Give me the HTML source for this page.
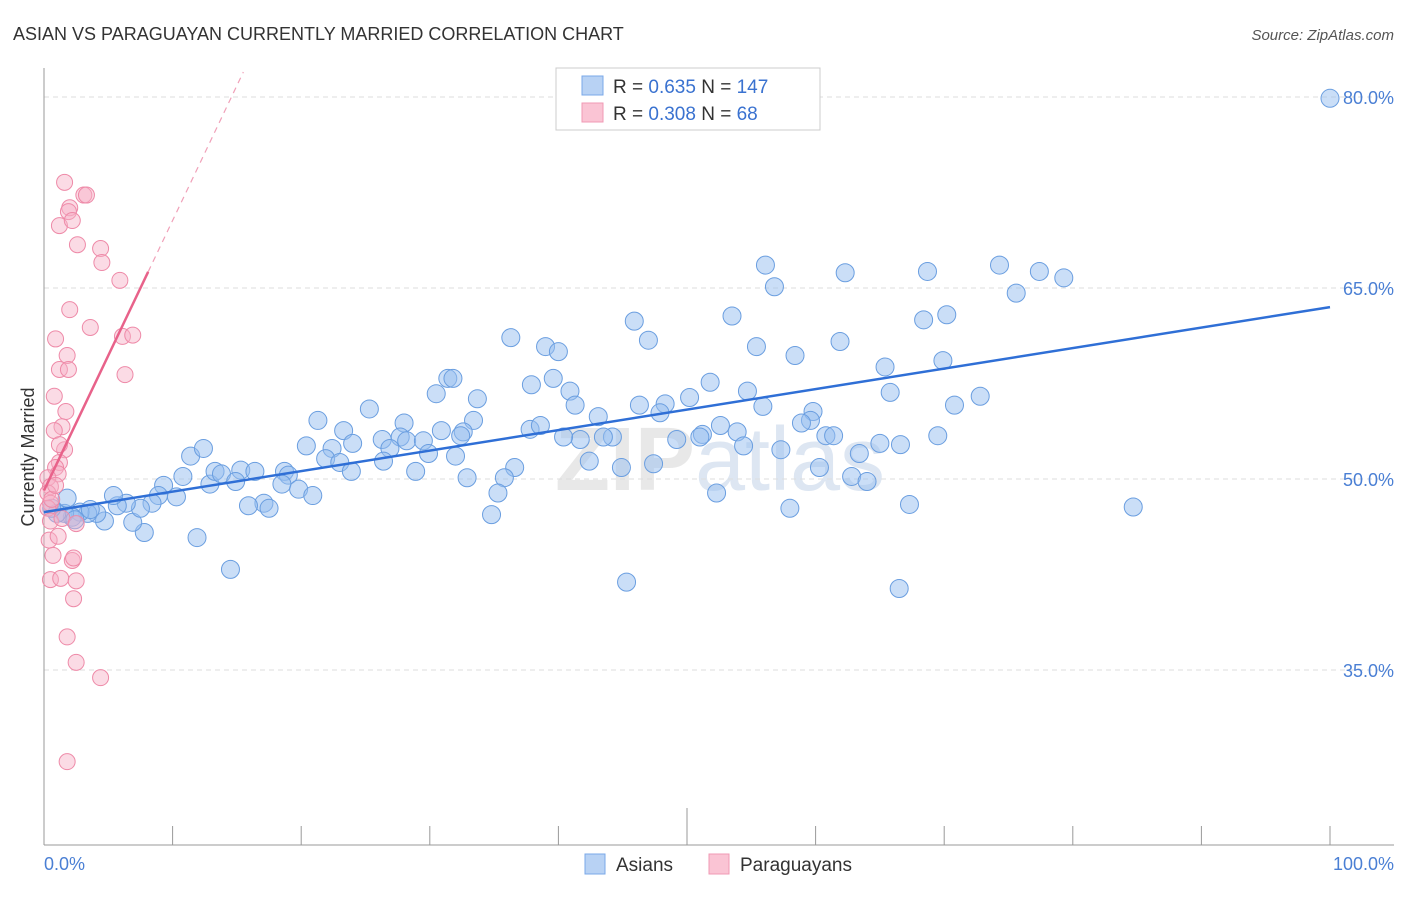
<!DOCTYPE html>
<html><head><meta charset="utf-8"><style>
body{margin:0;background:#fff;font-family:"Liberation Sans",sans-serif;}
svg text{font-family:"Liberation Sans",sans-serif;}
</style></head><body>
<svg id="chart" width="1406" height="892">
<text x="13" y="40" font-size="18" fill="#333">ASIAN VS PARAGUAYAN CURRENTLY MARRIED CORRELATION CHART</text>
<text x="1394" y="40" font-size="15" fill="#555" font-style="italic" text-anchor="end">Source: ZipAtlas.com</text>
<text x="720" y="490" font-size="90" fill="#e8e8e8" text-anchor="middle" font-weight="bold">ZIP<tspan fill="#dde6f2" font-weight="normal">atlas</tspan></text>
<g id="grid"></g><g id="axes"></g><g id="pts"></g><g id="trend"></g>
<text transform="translate(34,457) rotate(-90)" font-size="18" fill="#333" text-anchor="middle">Currently Married</text>
<text x="44" y="870" font-size="18" fill="#4a7fd4">0.0%</text>
<text x="1394" y="870" font-size="18" fill="#4a7fd4" text-anchor="end">100.0%</text>
<g>
<rect x="556" y="68" width="264" height="62" fill="#fff" stroke="#ccc"/>
<rect x="582" y="76" width="21" height="19" fill="#b8d2f4" stroke="#7aa8e8"/>
<rect x="582" y="103" width="21" height="19" fill="#fac4d4" stroke="#f09ab4"/>
<text x="613" y="93" font-size="19" fill="#333">R = <tspan fill="#3a72d0">0.635</tspan>    N = <tspan fill="#3a72d0">147</tspan></text>
<text x="613" y="120" font-size="19" fill="#333">R = <tspan fill="#3a72d0">0.308</tspan>    N =   <tspan fill="#3a72d0">68</tspan></text>
</g>
<g>
<rect x="585" y="854" width="20" height="20" fill="#b8d2f4" stroke="#7aa8e8"/>
<text x="616" y="871" font-size="19" fill="#333">Asians</text>
<rect x="709" y="854" width="20" height="20" fill="#fac4d4" stroke="#f09ab4"/>
<text x="740" y="871" font-size="19" fill="#333">Paraguayans</text>
</g>
</svg>
<script>
const yTicks=[35,50,65,80];
const xTickVals=[0,10,20,30,40,50,60,70,80,90,100];
const asianX=[100,56.1,56.8,62.3,68.7,74.3,77.4,79.3,75.6,53.5,45.9,68.4,70.2,47.0,36.3,39.0,40.0,55.4,58.4,61.9,69.9,65.4,31.4,31.8,37.9,39.6,40.9,41.3,33.7,30.5,25.3,21.3,28.0,33.4,23.3,27.7,51.8,54.7,55.9,50.2,48.3,46.3,47.9,43.1,84.7,72.8,70.8,65.8,59.8,59.6,58.9,60.8,61.4,65.0,66.6,69.5,52.6,53.9,54.4,57.3,51.2,51.0,49.2,44.2,43.5,41.7,40.4,37.8,38.6,32.6,30.9,32.4,26.3,26.9,28.2,29.5,29.9,24.0,22.4,20.4,21.9,23.0,23.9,26.4,28.9,32.0,36.6,35.8,35.3,32.9,34.8,42.4,44.9,47.4,60.3,62.8,63.4,64.0,52.3,58.0,67.3,45.3,66.5,14.5,11.9,7.8,6.9,4.7,11.4,12.4,10.8,9.3,12.9,13.3,13.8,15.3,14.9,16.4,18.7,19.0,18.5,19.8,20.9,17.1,15.9,17.5,10.3,8.9,8.4,7.5,6.4,5.7,5.4,4.1,3.4,2.8,2.2,1.6,1.0,0.6,1.8,2.4,3.6];
const asianY=[79.9,66.8,65.1,66.2,66.3,66.8,66.3,65.8,64.6,62.8,62.4,62.5,62.9,60.9,61.1,60.4,60.0,60.4,59.7,60.8,59.3,58.8,57.9,57.9,57.4,57.9,56.9,55.8,56.3,56.7,55.5,54.6,54.4,54.6,53.8,53.3,57.6,56.9,55.7,56.4,55.9,55.8,55.2,54.9,47.8,56.5,55.8,56.8,55.3,54.6,54.4,53.4,53.4,52.8,52.7,53.4,54.2,53.7,52.6,52.3,53.5,53.3,53.1,53.3,53.3,53.1,53.3,53.9,54.2,53.7,53.8,53.4,53.1,52.4,53.0,53.0,52.0,52.8,52.4,52.6,51.6,51.3,50.6,51.4,50.6,51.8,50.9,50.1,48.9,50.1,47.2,51.4,50.9,51.2,50.9,50.2,52.0,49.8,48.9,47.7,48.0,41.9,41.4,42.9,45.4,45.8,46.6,46.7,51.8,52.4,50.2,49.5,49.6,50.6,50.4,50.7,49.8,50.6,50.6,50.3,49.6,49.2,48.7,48.1,47.9,47.7,48.6,48.7,48.1,47.7,48.1,47.9,48.7,47.3,47.3,47.4,47.0,47.3,47.3,47.7,48.5,46.8,47.6];
const paraX=[1.6,3.1,3.3,2.0,1.9,1.2,2.2,2.6,4.4,4.5,5.9,2.0,3.6,0.9,6.1,6.9,1.8,1.2,1.9,6.3,0.8,1.7,1.4,0.8,1.6,1.2,0.9,1.1,0.3,0.5,0.3,0.5,0.3,0.5,1.4,2.5,0.4,1.1,0.7,2.2,2.3,0.5,1.3,2.5,2.3,1.8,2.5,4.4,1.8,0.6,0.9,1.2];
const paraY=[73.3,72.3,72.3,71.3,71.0,69.9,70.3,68.4,68.1,67.0,65.6,63.3,61.9,61.0,61.2,61.3,59.7,58.6,58.6,58.2,56.5,55.3,54.1,53.8,52.3,51.3,50.9,50.4,50.1,49.4,48.9,48.1,47.7,46.7,46.9,46.5,45.2,45.5,44.0,43.6,43.8,42.1,42.2,42.0,40.6,37.6,35.6,34.4,27.8,48.4,49.5,52.7];
const asianTrend=[47.4,63.5];   // y at x=0 and x=100
const paraTrend=[49.1,2.12];    // intercept, slope per %
const NS='http://www.w3.org/2000/svg';
const X=v=>44+v*12.86, Y=v=>479-(v-50)*12.733;
function mk(tag,attrs,parent){const e=document.createElementNS(NS,tag);for(const k in attrs)e.setAttribute(k,attrs[k]);document.getElementById(parent).appendChild(e);return e;}
yTicks.forEach(t=>{
 const l=mk('line',{x1:44,x2:1394,y1:Y(t),y2:Y(t),stroke:'#ddd','stroke-dasharray':'5,4'},'grid');
 
 
 const tx=mk('text',{x:1394,y:Y(t)+7,'font-size':18,fill:'#4a7fd4','text-anchor':'end'},'grid');
 tx.textContent=t.toFixed(1)+'%';
 
 
});
const ya=mk('line',{x1:44,x2:44,y1:68,y2:845,stroke:'#999'},'axes');


const xa=mk('line',{x1:44,x2:1394,y1:845,y2:845,stroke:'#999'},'axes');


xTickVals.forEach(t=>{
 const l=mk('line',{x1:X(t),x2:X(t),y1:845,y2:t==50?808:826,stroke:'#999'},'axes');
 
 
});
asianX.forEach((v,i)=>{
 const c=mk('circle',{cx:X(v),cy:Y(asianY[i]),r:9,fill:'rgba(150,190,240,0.5)',stroke:'#6a9ee0','stroke-width':1},'pts');
 
 
});
paraX.forEach((v,i)=>{
 const c=mk('circle',{cx:X(v),cy:Y(paraY[i]),r:8,fill:'rgba(247,175,198,0.45)',stroke:'#ee8aa8','stroke-width':1},'pts');
 
 
});
const bt=mk('line',{x1:X(0),y1:Y(asianTrend[0]),x2:X(100),y2:Y(asianTrend[1]),stroke:'#2f6fd6','stroke-width':2.5},'trend');


const pt=mk('line',{x1:X(0),y1:Y(paraTrend[0]),x2:X(8.1),y2:Y(paraTrend[0]+paraTrend[1]*8.1),stroke:'#e8628a','stroke-width':2.5},'trend');


const pd=mk('line',{x1:X(8.1),y1:Y(paraTrend[0]+paraTrend[1]*8.1),x2:X(15.5),y2:Y(paraTrend[0]+paraTrend[1]*15.5),stroke:'#f0a0b8','stroke-width':1.2,'stroke-dasharray':'6,5'},'trend');


</script>
</body></html>
